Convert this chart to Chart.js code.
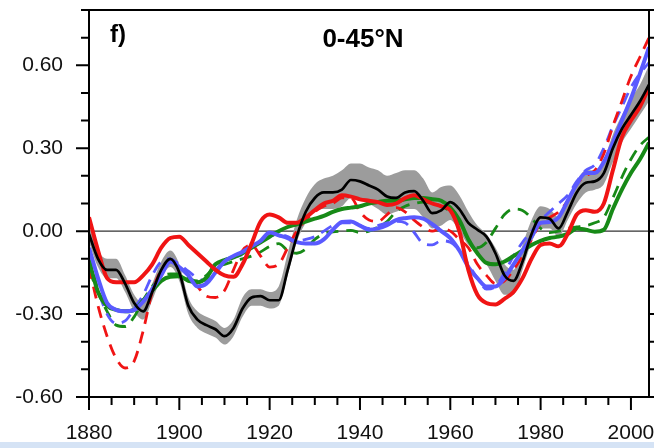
<!DOCTYPE html>
<html>
<head>
<meta charset="utf-8">
<script src="https://cdn.jsdelivr.net/npm/chart.js@4.4.1/dist/chart.umd.min.js"></script>
<style>
  html, body { margin: 0; padding: 0; background: #fff; }
  #wrap { position: relative; width: 654px; height: 448px; overflow: hidden; }
  #strip { position: absolute; left: 0; top: 442px; width: 654px; height: 6px; background: #d5e3f5; }
</style>
</head>
<body>
<div id="wrap">
  <canvas id="chart" width="654" height="448"></canvas>
  <div id="strip"></div>
</div>
<script>
// years shared by every series
const years = [1880, 1882, 1884, 1886, 1888, 1890, 1892, 1894, 1896, 1898,
  1900, 1902, 1904, 1906, 1908, 1910, 1912, 1914, 1916, 1918,
  1920, 1922, 1924, 1926, 1928, 1930, 1932, 1934, 1936, 1938,
  1940, 1942, 1944, 1946, 1948, 1950, 1952, 1954, 1956, 1958,
  1960, 1962, 1964, 1966, 1968, 1970, 1972, 1974, 1976, 1978,
  1980, 1982, 1984, 1986, 1988, 1990, 1992, 1994, 1996, 1998,
  2000, 2002, 2004]

const obs = [-0.01, -0.10, -0.14, -0.14, -0.19, -0.26, -0.29, -0.22, -0.14, -0.10,
  -0.15, -0.27, -0.32, -0.34, -0.355, -0.38, -0.35, -0.28, -0.24, -0.235,
  -0.25, -0.25, -0.14, -0.02, 0.07, 0.12, 0.14, 0.14, 0.15, 0.185,
  0.18, 0.165, 0.15, 0.125, 0.12, 0.14, 0.145, 0.11, 0.065, 0.075,
  0.105, 0.08, 0.03, 0.005, -0.02, -0.08, -0.16, -0.18, -0.11, -0.01,
  0.05, 0.045, 0.01, 0.07, 0.14, 0.175, 0.18, 0.21, 0.30, 0.37,
  0.42, 0.47, 0.53]

const obsLow = [-0.04, -0.13, -0.17, -0.17, -0.22, -0.29, -0.32, -0.25, -0.17, -0.13,
  -0.18, -0.30, -0.35, -0.37, -0.385, -0.41, -0.38, -0.31, -0.27, -0.27,
  -0.28, -0.27, -0.16, -0.04, 0.03, 0.07, 0.08, 0.08, 0.09, 0.12,
  0.12, 0.10, 0.08, 0.06, 0.07, 0.08, 0.08, 0.05, 0.01, 0.02,
  0.04, 0.00, -0.05, -0.08, -0.12, -0.18, -0.23, -0.23, -0.14, -0.04,
  0.01, 0.01, -0.02, 0.04, 0.10, 0.14, 0.15, 0.17, 0.25, 0.32,
  0.37, 0.42, 0.47]

const obsHigh = [0.02, -0.07, -0.10, -0.10, -0.16, -0.23, -0.26, -0.19, -0.11, -0.07,
  -0.12, -0.24, -0.29, -0.31, -0.325, -0.35, -0.32, -0.24, -0.21, -0.21,
  -0.22, -0.20, -0.08, 0.04, 0.12, 0.17, 0.19, 0.20, 0.22, 0.245,
  0.245, 0.23, 0.22, 0.20, 0.21, 0.22, 0.22, 0.19, 0.14, 0.16,
  0.165, 0.13, 0.07, 0.02, -0.01, -0.06, -0.12, -0.14, -0.05, 0.04,
  0.09, 0.08, 0.05, 0.11, 0.18, 0.22, 0.22, 0.26, 0.35, 0.42,
  0.48, 0.53, 0.60]

const redSolid = [0.05, -0.07, -0.17, -0.185, -0.185, -0.185, -0.16, -0.12, -0.06, -0.025,
  -0.02, -0.05, -0.08, -0.11, -0.14, -0.16, -0.165, -0.12, -0.045, 0.035,
  0.06, 0.05, 0.03, 0.03, 0.05, 0.076, 0.10, 0.11, 0.13, 0.125,
  0.115, 0.11, 0.105, 0.095, 0.10, 0.12, 0.13, 0.115, 0.10, 0.09,
  0.075, 0.00, -0.14, -0.23, -0.26, -0.265, -0.245, -0.22, -0.17, -0.10,
  -0.05, -0.045, -0.055, -0.01, 0.06, 0.076, 0.07, 0.10, 0.22, 0.34,
  0.40, 0.45, 0.52]

const redDash = [-0.13, -0.27, -0.38, -0.46, -0.495, -0.47, -0.36, -0.22, -0.14, -0.11,
  -0.13, -0.16, -0.20, -0.235, -0.24, -0.215, -0.14, -0.07, -0.05, -0.09,
  -0.13, -0.12, -0.06, 0.00, 0.04, 0.07, 0.09, 0.10, 0.12, 0.12,
  0.07, 0.04, 0.035, 0.06, 0.085, 0.07, 0.04, 0.015, 0.00, 0.01,
  0.00, -0.03, -0.06, -0.12, -0.16, -0.19, -0.18, -0.14, -0.09, -0.03,
  0.03, 0.05, 0.07, 0.11, 0.17, 0.20, 0.22, 0.28, 0.38, 0.47,
  0.56, 0.63, 0.70]

const blueSolid = [-0.06, -0.17, -0.26, -0.285, -0.29, -0.285, -0.255, -0.21, -0.16, -0.11,
  -0.13, -0.16, -0.20, -0.19, -0.15, -0.11, -0.09, -0.075, -0.055, -0.035,
  -0.005, -0.015, -0.025, -0.04, -0.045, -0.045, -0.03, 0.005, 0.033, 0.035,
  0.02, 0.005, 0.01, 0.022, 0.04, 0.047, 0.05, 0.045, 0.025, 0.00,
  -0.025, -0.07, -0.13, -0.17, -0.20, -0.20, -0.17, -0.12, -0.07, -0.02,
  0.03, 0.033, 0.05, 0.11, 0.17, 0.21, 0.21, 0.25, 0.32, 0.40,
  0.48, 0.57, 0.665]

const blueDash = [-0.09, -0.21, -0.30, -0.333, -0.325, -0.28, -0.23, -0.16, -0.11, -0.10,
  -0.12, -0.145, -0.17, -0.18, -0.14, -0.11, -0.095, -0.085, -0.06, -0.04,
  -0.02, -0.01, -0.02, -0.035, -0.03, -0.02, 0.00, 0.02, 0.03, 0.03,
  0.02, 0.01, 0.02, 0.03, 0.035, 0.03, -0.005, -0.045, -0.05, -0.035,
  -0.04, -0.07, -0.12, -0.17, -0.21, -0.20, -0.15, -0.09, -0.04, 0.00,
  0.04, 0.07, 0.10, 0.13, 0.18, 0.22, 0.24, 0.30, 0.38, 0.45,
  0.52, 0.57, 0.61]

const greenSolid = [-0.105, -0.22, -0.27, -0.285, -0.29, -0.285, -0.25, -0.215, -0.18, -0.165,
  -0.163, -0.18, -0.185, -0.168, -0.12, -0.105, -0.095, -0.08, -0.06, -0.04,
  -0.02, 0.00, 0.015, 0.025, 0.035, 0.045, 0.055, 0.07, 0.08, 0.085,
  0.09, 0.10, 0.105, 0.11, 0.11, 0.115, 0.12, 0.12, 0.115, 0.11,
  0.085, 0.04, -0.03, -0.08, -0.115, -0.12, -0.11, -0.09, -0.07, -0.05,
  -0.035, -0.025, -0.02, -0.01, 0.01, 0.005, -0.002, 0.005, 0.08, 0.15,
  0.21, 0.26, 0.32]

const greenDash = [-0.14, -0.22, -0.29, -0.34, -0.345, -0.31, -0.25, -0.20, -0.165, -0.155,
  -0.155, -0.17, -0.18, -0.16, -0.13, -0.12, -0.11, -0.10, -0.09, -0.075,
  -0.055, -0.045, -0.07, -0.08, -0.065, -0.03, -0.01, -0.003, 0.00, 0.003,
  -0.005, 0.00, 0.015, 0.035, 0.07, 0.09, 0.10, 0.105, 0.10, 0.09,
  0.07, 0.03, -0.03, -0.06, -0.04, 0.01, 0.06, 0.08, 0.075, 0.047,
  0.01, -0.005, 0.00, 0.01, 0.015, 0.02, 0.03, 0.05, 0.12, 0.195,
  0.26, 0.31, 0.34]

const xTicks = [1880, 1900, 1920, 1940, 1960, 1980, 2000]
const xMinor = [1885, 1890, 1895, 1905, 1910, 1915, 1925, 1930, 1935, 1945, 1950, 1955,
  1965, 1970, 1975, 1985, 1990, 1995]
const yTicks = [-0.6, -0.3, 0, 0.3, 0.6]
const yMinor = [-0.5, -0.4, -0.2, -0.1, 0.1, 0.2, 0.4, 0.5, 0.7, 0.8]

const FONT = "'Liberation Sans', Arial, Helvetica, sans-serif"
const pts = vals => vals.map((v, i) => ({ x: years[i], y: v }))

const line = (vals, color, width, dash, order) => ({
  data: pts(vals),
  borderColor: color,
  borderWidth: width,
  borderDash: dash,
  borderCapStyle: "butt",
  pointRadius: 0,
  fill: false,
  cubicInterpolationMode: "monotone",
  order
})

// frame, ticks, zero line and the two titles
const decor = {
  id: "decor",
  beforeDatasetsDraw(chart) {
    const { ctx, chartArea: a, scales: { y } } = chart
    const y0 = y.getPixelForValue(0)
    ctx.save()
    ctx.strokeStyle = "#333"
    ctx.lineWidth = 1.3
    ctx.beginPath()
    ctx.moveTo(a.left, y0)
    ctx.lineTo(a.right, y0)
    ctx.stroke()
    ctx.restore()
  },
  afterDraw(chart) {
    const { ctx, chartArea: a, scales: { x, y } } = chart
    ctx.save()
    ctx.strokeStyle = "#000"
    ctx.lineWidth = 2
    ctx.strokeRect(a.left, a.top, a.right - a.left, a.bottom - a.top)

    ctx.beginPath()
    yTicks.forEach(v => {
      const p = y.getPixelForValue(v)
      ctx.moveTo(a.left - 13, p); ctx.lineTo(a.left, p)
      ctx.moveTo(a.right, p); ctx.lineTo(a.right + 13, p)
    })
    yMinor.forEach(v => {
      const p = y.getPixelForValue(v)
      ctx.moveTo(a.left - 8, p); ctx.lineTo(a.left, p)
      ctx.moveTo(a.right, p); ctx.lineTo(a.right + 8, p)
    })
    xTicks.forEach(v => {
      const p = x.getPixelForValue(v)
      ctx.moveTo(p, a.bottom); ctx.lineTo(p, a.bottom + 13)
    })
    xMinor.forEach(v => {
      const p = x.getPixelForValue(v)
      ctx.moveTo(p, a.bottom); ctx.lineTo(p, a.bottom + 8)
    })
    ctx.stroke()

    ctx.fillStyle = "#000"
    ctx.textBaseline = "alphabetic"
    ctx.font = "bold 24px " + FONT
    ctx.textAlign = "left"
    ctx.fillText("f)", 110, 42)
    ctx.font = "bold 26px " + FONT
    ctx.textAlign = "center"
    ctx.fillText("0-45°N", 363, 47)
    ctx.restore()
  }
}

new Chart(document.getElementById("chart"), {
  type: "line",
  data: {
    datasets: [
      line(obs, "#000000", 2.7, [], 0),
      line(redSolid, "#f01414", 4, [], 1),
      line(blueSolid, "#5a5aff", 4, [], 2),
      line(greenSolid, "#178a17", 4, [], 3),
      line(redDash, "#f01414", 2.8, [12, 8], 4),
      line(blueDash, "#5a5aff", 2.8, [12, 8], 5),
      line(greenDash, "#178a17", 2.8, [12, 8], 6),
      { data: pts(obsHigh), borderWidth: 0, pointRadius: 0, backgroundColor: "#9c9c9c",
        fill: "+1", cubicInterpolationMode: "monotone", order: 10 },
      { data: pts(obsLow), borderWidth: 0, pointRadius: 0, fill: false,
        cubicInterpolationMode: "monotone", order: 11 }
    ]
  },
  options: {
    responsive: false,
    animation: false,
    layout: { padding: { top: 10, right: 5, left: 0, bottom: 0 } },
    plugins: { legend: { display: false }, tooltip: { enabled: false } },
    scales: {
      x: {
        type: "linear", min: 1880, max: 2004,
        grid: { display: false, drawTicks: false },
        border: { display: false },
        afterBuildTicks: s => { s.ticks = xTicks.map(v => ({ value: v })) },
        afterFit: s => { s.height = 51; s.paddingLeft = 0; s.paddingRight = 0 },
        ticks: { color: "#111", padding: 24, maxRotation: 0, font: { family: FONT, size: 21 },
          callback: v => String(v) }
      },
      y: {
        min: -0.6, max: 0.8,
        grid: { display: false, drawTicks: false },
        border: { display: false },
        afterBuildTicks: s => { s.ticks = yTicks.map(v => ({ value: v })) },
        afterFit: s => { s.width = 89; s.paddingTop = 0; s.paddingBottom = 0 },
        ticks: { color: "#111", padding: 26, font: { family: FONT, size: 21 },
          callback: v => v.toFixed(2) }
      }
    }
  },
  plugins: [decor]
})
</script>
</body>
</html>
